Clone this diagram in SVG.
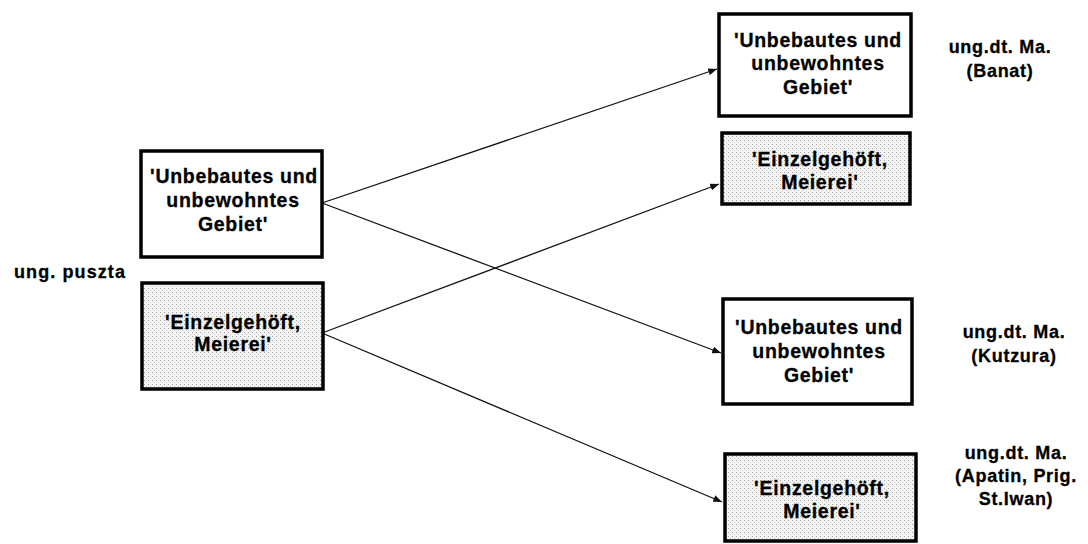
<svg xmlns="http://www.w3.org/2000/svg" width="1088" height="544" viewBox="0 0 1088 544">
<style>
.box{fill:#ffffff;stroke:#000;stroke-width:3.5}
.shaded{fill:url(#dots);stroke:#000;stroke-width:3.5}
.t{font-family:"Liberation Sans",Arial,sans-serif;font-weight:bold;font-size:19.5px;letter-spacing:0.7px;fill:#000;stroke:#000;stroke-width:0.3;text-anchor:middle}
.lbl{font-family:"Liberation Sans",Arial,sans-serif;font-weight:bold;font-size:18px;letter-spacing:0.7px;fill:#000;stroke:#000;stroke-width:0.3;text-anchor:middle}
.conn{stroke:#111;stroke-width:1.3;fill:none;marker-end:url(#arr)}
</style>
<defs>
<pattern id="dots" width="4" height="4" patternUnits="userSpaceOnUse">
<rect width="4" height="4" fill="#f4f4f4"/>
<rect x="0" y="0" width="1" height="1" fill="#a0a0a0"/>
<rect x="2" y="2" width="1" height="1" fill="#cccccc"/>
</pattern>
<marker id="arr" viewBox="0 0 10 8" refX="10" refY="4" markerWidth="9" markerHeight="7" markerUnits="userSpaceOnUse" orient="auto">
<path d="M0,0 L10,4 L0,8 z" fill="#111"/>
</marker>
</defs>
<g id="connectors">
<line class="conn" x1="322" y1="203" x2="717" y2="69"/>
<line class="conn" x1="322" y1="203" x2="721" y2="353"/>
<line class="conn" x1="322" y1="333" x2="719" y2="184"/>
<line class="conn" x1="322" y1="333" x2="722" y2="502"/>
</g>
<g id="label-puszta">
<text class="lbl" x="70" y="278" style="letter-spacing:1.1px">ung. puszta</text>
</g>
<g id="left-unbebaut">
<rect class="box" x="141" y="151" width="181" height="106"/>
<text class="t" x="234" y="183">'Unbebautes und</text>
<text class="t" x="233" y="207">unbewohntes</text>
<text class="t" x="233" y="231">Gebiet'</text>
</g>
<g id="left-einzel">
<rect class="shaded" x="142" y="283" width="181" height="106"/>
<text class="t" x="233" y="329">'Einzelgehöft,</text>
<text class="t" x="233" y="351">Meierei'</text>
</g>
<g id="right-unbebaut-1">
<rect class="box" x="719" y="14" width="192" height="102"/>
<text class="t" x="818" y="47">'Unbebautes und</text>
<text class="t" x="818" y="70">unbewohntes</text>
<text class="t" x="818" y="94">Gebiet'</text>
</g>
<g id="right-einzel-1">
<rect class="shaded" x="722" y="133" width="188" height="71"/>
<text class="t" x="820" y="166">'Einzelgehöft,</text>
<text class="t" x="820" y="189">Meierei'</text>
</g>
<g id="right-unbebaut-2">
<rect class="box" x="723" y="299" width="189" height="105"/>
<text class="t" x="819" y="334">'Unbebautes und</text>
<text class="t" x="819" y="358">unbewohntes</text>
<text class="t" x="819" y="382">Gebiet'</text>
</g>
<g id="right-einzel-2">
<rect class="shaded" x="725" y="454" width="191" height="87"/>
<text class="t" x="822" y="495">'Einzelgehöft,</text>
<text class="t" x="822" y="518">Meierei'</text>
</g>
<g id="label-banat">
<text class="lbl" x="1000" y="53">ung.dt. Ma.</text>
<text class="lbl" x="1000" y="77">(Banat)</text>
</g>
<g id="label-kutzura">
<text class="lbl" x="1014" y="338">ung.dt. Ma.</text>
<text class="lbl" x="1014" y="362">(Kutzura)</text>
</g>
<g id="label-apatin">
<text class="lbl" x="1016" y="459">ung.dt. Ma.</text>
<text class="lbl" x="1016" y="482">(Apatin, Prig.</text>
<text class="lbl" x="1016" y="505">St.Iwan)</text>
</g>
</svg>
